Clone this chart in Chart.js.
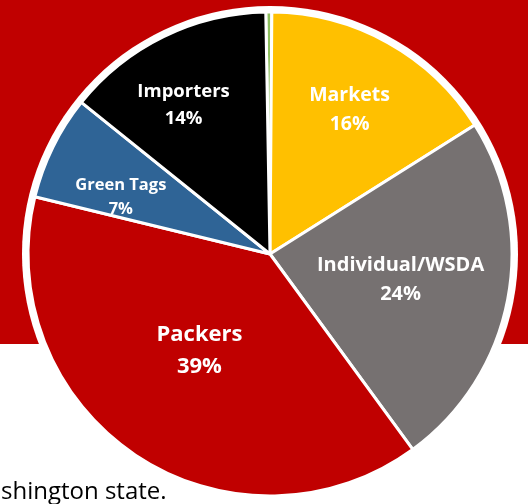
<!DOCTYPE html>
<html>
<head>
<meta charset="utf-8">
<script src="https://cdn.jsdelivr.net/npm/chart.js@4.4.0/dist/chart.umd.min.js"></script>
<style>
    html, body { margin: 0; padding: 0; }
    body {
        width: 528px; height: 504px; overflow: hidden;
        background: linear-gradient(to bottom, #C00000 0, #C00000 344px, #ffffff 344px);
    }
    #wrap { position: relative; width: 528px; height: 504px; }
    canvas { position: absolute; left: 0; top: 0; }
</style>
</head>
<body>
<div id="wrap"><canvas id="share_Chart" width="528" height="504"></canvas></div>
<script>
// slices clockwise from 12 o'clock
const categories = ['Other', 'Markets', 'Individual/WSDA', 'Packers', 'Green Tags', 'Importers'];
const shares = [0.4, 16, 24, 39, 7, 14];
const shareLabels = ['', '16%', '24%', '39%', '7%', '14%'];

const sliceColors = ['#8DBF5F', '#FFC000', '#767171', '#C00000', '#2F6496', '#000000'];

// white rim around the whole pie
const whiteRing = {
    id: 'whiteRing',
    beforeDatasetsDraw(chart) {
        const arc = chart.getDatasetMeta(0).data[0];
        const ctx = chart.ctx;
        ctx.save();
        ctx.fillStyle = '#ffffff';
        ctx.beginPath();
        ctx.arc(arc.x, arc.y, arc.outerRadius + 6, 0, Math.PI * 2);
        ctx.fill();
        ctx.restore();
    }
};

// two-line labels inside the slices
const sliceLabels = {
    id: 'sliceLabels',
    afterDatasetsDraw(chart, args, opts) {
        const ctx = chart.ctx;
        chart.getDatasetMeta(0).data.forEach(function(arc, i) {
            if (!shareLabels[i]) return;
            const p = arc.getProps(['x', 'y', 'startAngle', 'endAngle', 'outerRadius'], true);
            const place = opts.place[i];
            const a = (p.startAngle + p.endAngle) / 2 + place[0] * Math.PI / 180;
            const r = p.outerRadius * place[1];
            const cx = p.x + r * Math.cos(a);
            const cy = p.y + r * Math.sin(a);
            const size = opts.sizes[i];
            const half = size * 1.45 / 2;
            ctx.save();
            ctx.fillStyle = '#ffffff';
            ctx.font = 'bold ' + size + 'px "Open Sans"';
            ctx.textAlign = 'center';
            ctx.textBaseline = 'middle';
            ctx.fillText(categories[i], cx, cy - half);
            ctx.fillText(shareLabels[i], cx, cy + half);
            ctx.restore();
        });
    },
    afterDraw(chart) {
        const ctx = chart.ctx;
        ctx.save();
        ctx.fillStyle = '#000000';
        ctx.font = '24px "Open Sans"';
        ctx.textAlign = 'left';
        ctx.textBaseline = 'alphabetic';
        ctx.fillText('shington state.', 1, 499);
        ctx.restore();
    }
};

const ctx = document.getElementById('share_Chart').getContext('2d');
const share_Chart = new Chart(ctx, {
    type: 'pie',
    data: {
        labels: categories,
        datasets: [{
            data: shares,
            backgroundColor: sliceColors,
            borderColor: '#ffffff',
            borderWidth: 3
        }]
    },
    options: {
        responsive: false,
        animation: false,
        rotation: -1,
        radius: 242,
        layout: { padding: { left: 12, top: 4 } },
        plugins: {
            legend: { display: false },
            tooltip: { enabled: false },
            sliceLabels: {
                place: [[0, 0], [-0.2, 0.68], [0.35, 0.55], [2.3, 0.495], [-5.35, 0.66], [-4.1, 0.71]],
                sizes: [0, 19.5, 20, 22, 16.5, 18.5]
            }
        }
    },
    plugins: [whiteRing, sliceLabels]
});
</script>
</body>
</html>
